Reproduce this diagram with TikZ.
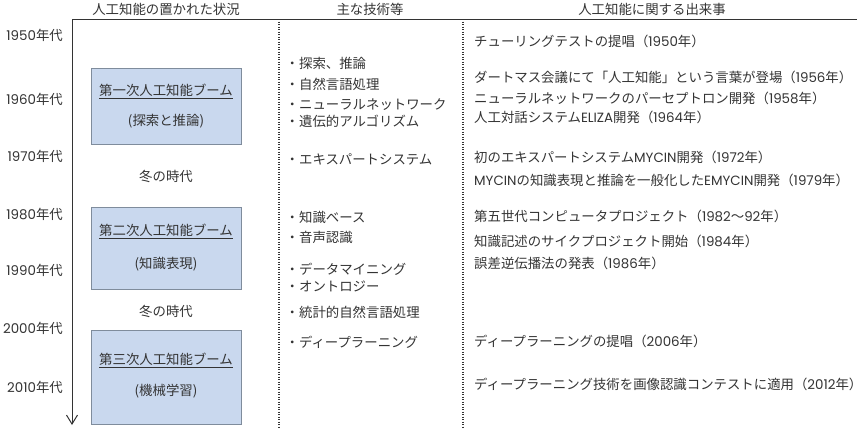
\documentclass[tikz,border=0pt]{standalone}
\usepackage{fontspec}
\setmainfont{Noto Sans CJK JP}
\newfontfamily\latfont{Poppins}
\newcommand{\lt}[1]{{\latfont #1}}
\usetikzlibrary{arrows.meta}
\definecolor{boxfill}{HTML}{C9D8EE}
\definecolor{boxline}{HTML}{7F8C9C}
\definecolor{ink}{HTML}{333333}
\begin{document}
\begin{tikzpicture}[x=1bp,y=-1bp,
  every node/.style={font=\fontsize{13.4bp}{15bp}\selectfont, inner sep=0pt, text height=11bp, text depth=2bp, text=ink},
  decade/.style={anchor=east},
  item/.style={anchor=west},
  event/.style={anchor=west},
  boombox/.style={draw=boxline, fill=boxfill, line width=0.8bp, minimum width=150bp, anchor=north west, text height=, text depth=},
  sepline/.style={draw=ink, line width=1.2bp, dash pattern=on 1.2bp off 1.3bp},
  axisline/.style={draw=ink, line width=1bp}]
\useasboundingbox (0,0) rectangle (862,428);

% headers
\node (h1) at (166,10) {人工知能の置かれた状況};
\node (h2) at (370,10) {主な技術等};
\node (h3) at (652,10) {人工知能に関する出来事};

% frame lines
\coordinate (tl) at (72,19);
\coordinate (tr) at (857,19);
\coordinate (ab) at (72,425);
\coordinate (d1t) at (279,19);
\coordinate (d1b) at (279,428);
\coordinate (d2t) at (463,19);
\coordinate (d2b) at (463,428);
\draw[axisline] (tl) -- (tr);
\draw[axisline, -{Straight Barb[length=9bp,width=11bp,line width=1bp]}] (tl) -- (ab);
\draw[sepline] (d1t) -- (d1b);
\draw[sepline] (d2t) -- (d2b);

% decades
\node[decade] (y50) at (63,36) {\lt{1950}年代};
\node[decade] (y60) at (63,100) {\lt{1960}年代};
\node[decade] (y70) at (63,157) {\lt{1970}年代};
\node[decade] (y80) at (63,215) {\lt{1980}年代};
\node[decade] (y90) at (63,271) {\lt{1990}年代};
\node[decade] (y00) at (63,329) {\lt{2000}年代};
\node[decade] (y10) at (63,388) {\lt{2010}年代};

% boom boxes
\node[boombox, minimum height=76bp] (b1) at (91,68) {};
\node (b1t) at (166,91) {\underline{第一次人工知能ブーム}};
\node (b1s) at (166,121) {(探索と推論)};
\node (w1) at (166,177) {冬の時代};
\node[boombox, minimum height=82bp] (b2) at (91,207) {};
\node (b2t) at (166,231) {\underline{第二次人工知能ブーム}};
\node (b2s) at (166,264) {(知識表現)};
\node (w2) at (166,312) {冬の時代};
\node[boombox, minimum height=94bp] (b3) at (91,330) {};
\node (b3t) at (166,360) {\underline{第三次人工知能ブーム}};
\node (b3s) at (166,391) {(機械学習)};

% technologies
\node[item] (t1) at (285.5,64) {・探索、推論};
\node[item] (t2) at (285.5,85) {・自然言語処理};
\node[item] (t3) at (285.5,105) {・ニューラルネットワーク};
\node[item] (t4) at (285.5,122) {・遺伝的アルゴリズム};
\node[item] (t5) at (285.5,160) {・エキスパートシステム};
\node[item] (t6) at (285.5,218) {・知識ベース};
\node[item] (t7) at (285.5,238) {・音声認識};
\node[item] (t8) at (285.5,270) {・データマイニング};
\node[item] (t9) at (285.5,287) {・オントロジー};
\node[item] (t10) at (285.5,313) {・統計的自然言語処理};
\node[item] (t11) at (285.5,343) {・ディープラーニング};

% events
\node[event] (e1) at (474,42) {チューリングテストの提唱（\lt{1950}年）};
\node[event] (e2) at (474,78) {ダートマス会議にて「人工知能」という言葉が登場（\lt{1956}年）};
\node[event] (e3) at (474,99) {ニューラルネットワークのパーセプトロン開発（\lt{1958}年）};
\node[event] (e4) at (474,118) {人工対話システム\lt{ELIZA}開発（\lt{1964}年）};
\node[event] (e5) at (474,158) {初のエキスパートシステム\lt{MYCIN}開発（\lt{1972}年）};
\node[event] (e6) at (474,181) {\lt{MYCIN}の知識表現と推論を一般化した\lt{EMYCIN}開発（\lt{1979}年）};
\node[event] (e7) at (474,217) {第五世代コンピュータプロジェクト（\lt{1982}～\lt{92}年）};
\node[event] (e8) at (474,242) {知識記述のサイクプロジェクト開始（\lt{1984}年）};
\node[event] (e9) at (474,264) {誤差逆伝播法の発表（\lt{1986}年）};
\node[event] (e10) at (474,342) {ディープラーニングの提唱（\lt{2006}年）};
\node[event] (e11) at (474,385) {ディープラーニング技術を画像認識コンテストに適用（\lt{2012}年）};
\end{tikzpicture}
\end{document}
